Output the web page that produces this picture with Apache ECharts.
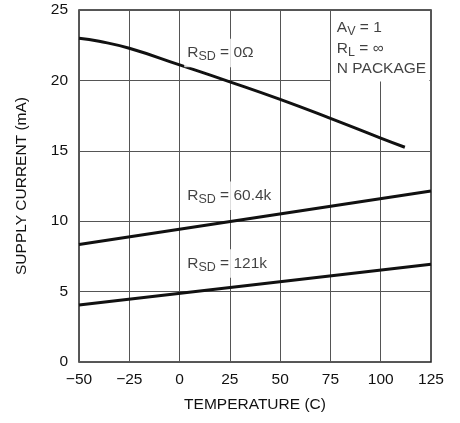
<!DOCTYPE html>
<html>
<head>
<meta charset="utf-8">
<script src="https://cdn.jsdelivr.net/npm/echarts@6/dist/echarts.min.js"></script>
<style>html,body{margin:0;padding:0;background:#fff}#c{width:460px;height:423px}</style>
</head>
<body>
<div id="c"></div>
<script>
var xTicks = [-50, 125, 25];
var yTicks = [0, 25, 5];
var rsd0 = [[-50, 23.0], [-40, 22.78], [-25, 22.28], [0, 21.1], [25, 19.9], [50, 18.65], [75, 17.3], [100, 15.9], [112, 15.25]];
var rsd60 = [[-50, 8.35], [125, 12.15]];
var rsd121 = [[-50, 4.05], [125, 6.95]];
var labelNames = ['0Ω', '60.4k', '121k'];
var labelPos = [[2.3, 21.95], [2.3, 11.8], [2.3, 7.0]];
var noteLines = ['{r|A}{s|V}{r| = 1}', '{r|R}{s|L}{r| = ∞}', '{r|N PACKAGE}'];
var notePos = [78.2, 24.45];
var noteBox = [[75.3, 19.92], [124.2, 24.93]];

var FONT = '"Liberation Sans", Arial, sans-serif';
var FS = 15.5;
var rich = {
  r: {fontSize: FS, color: '#111', fontFamily: FONT, lineHeight: 20.5},
  s: {fontSize: 12.5, color: '#111', fontFamily: FONT, lineHeight: 12, verticalAlign: 'bottom'}
};
var chart = echarts.init(document.getElementById('c'));
var lineStyle = {color: '#111', width: 3};
function lineSeries(d, smooth) {
  return {type: 'line', data: d, smooth: smooth, showSymbol: false, symbol: 'none', lineStyle: lineStyle, z: 3, silent: true};
}
chart.setOption({
  animation: false,
  grid: {left: 79, right: 29, top: 10, bottom: 61, show: true, borderColor: '#222', borderWidth: 1.5, backgroundColor: 'transparent'},
  xAxis: {
    type: 'value', min: xTicks[0], max: xTicks[1], interval: xTicks[2],
    name: 'TEMPERATURE (C)', nameLocation: 'middle', nameGap: 35,
    nameTextStyle: {fontSize: FS, color: '#111', fontFamily: FONT},
    axisLine: {show: false}, axisTick: {show: false},
    axisLabel: {fontSize: FS, color: '#111', fontFamily: FONT, margin: 10, formatter: function (v) { return String(v).replace('-', '\u2212'); }},
    splitLine: {show: true, lineStyle: {color: '#555', width: 1}}
  },
  yAxis: {
    type: 'value', min: yTicks[0], max: yTicks[1], interval: yTicks[2],
    name: 'SUPPLY CURRENT (mA)', nameLocation: 'middle', nameGap: 49,
    nameTextStyle: {fontSize: FS, color: '#111', fontFamily: FONT},
    axisLine: {show: false}, axisTick: {show: false},
    axisLabel: {fontSize: FS, color: '#111', fontFamily: FONT, margin: 11},
    splitLine: {show: true, lineStyle: {color: '#555', width: 1}}
  },
  series: [
    lineSeries(rsd0, 0.5),
    lineSeries(rsd60, false),
    lineSeries(rsd121, false),
    {
      type: 'scatter', symbolSize: 0, z: 5, silent: true,
      data: labelPos.map(function (p, i) { return {value: p, name: labelNames[i]}; }),
      label: {
        show: true, position: [0, 0], align: 'left', verticalAlign: 'middle',
        backgroundColor: '#fff', padding: [4, 3, 4, 3],
        formatter: function (p) { return '{r|R}{s|SD}{r| = ' + p.name + '}'; },
        rich: rich
      },
      markArea: {
        silent: true, itemStyle: {color: '#fff'},
        data: [[{coord: noteBox[0]}, {coord: noteBox[1]}]]
      }
    },
    {
      type: 'scatter', symbolSize: 0, z: 6, silent: true,
      data: [notePos],
      label: {
        show: true, position: [0, 0], align: 'left', verticalAlign: 'top',
        formatter: noteLines.join('\n'), rich: rich
      }
    }
  ]
});
</script>
</body>
</html>
